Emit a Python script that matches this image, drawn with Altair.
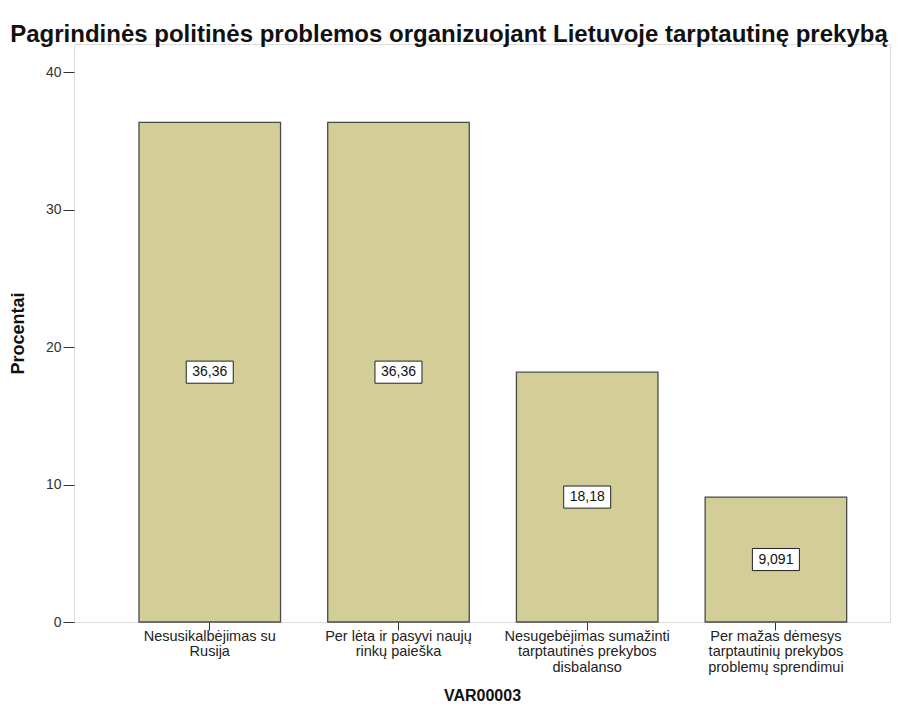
import altair as alt
import pandas as pd

categories = [
    "Nesusikalbėjimas su\nRusija",
    "Per lėta ir pasyvi naujų\nrinkų paieška",
    "Nesugebėjimas sumažinti\ntarptautinės prekybos\ndisbalanso",
    "Per mažas dėmesys\ntarptautinių prekybos\nproblemų sprendimui",
]
percent = [36.36, 36.36, 18.18, 9.091]
value_labels = ["36,36", "36,36", "18,18", "9,091"]
y_ticks = [0, 10, 20, 30, 40]

df = pd.DataFrame({"cat": categories, "pct": percent, "lab": value_labels})
df["mid"] = df["pct"] / 2

FONT = "Liberation Sans"

x_enc = alt.X(
    "cat:N",
    sort=categories,
    title="VAR00003",
    scale=alt.Scale(paddingInner=0.25, paddingOuter=0.287, align=0.6),
    axis=alt.Axis(
        labelAngle=0,
        labelExpr="split(datum.label, '\\n')",
        labelFont=FONT,
        labelFontSize=14.5,
        labelLineHeight=15.5,
        labelColor="#222",
        labelLimit=400,
        labelPadding=-1,
        tickSize=8,
        tickColor="#333",
        domain=False,
        titleFont=FONT,
        titleFontSize=16,
        titleFontWeight="bold",
        titleColor="#111",
        titleY=73,
        titleBaseline="middle",
    ),
)

y_scale = alt.Scale(domain=[0, 42.06], nice=False, zero=True)

bars = alt.Chart(df).mark_bar(
    fill="#d3ce97", stroke="#4a4a4a", strokeWidth=1.3
).encode(
    x=x_enc,
    y=alt.Y(
        "pct:Q",
        scale=y_scale,
        title="Procentai",
        axis=alt.Axis(
            values=y_ticks,
            grid=False,
            domain=False,
            tickSize=11,
            tickColor="#333",
            labelFont=FONT,
            labelFontSize=14,
            labelColor="#333",
            labelPadding=2,
            titleFont=FONT,
            titleFontSize=18,
            titleFontWeight="bold",
            titleColor="#111",
            titleX=-56,
            titleY=289,
            titleAngle=270,
            titleAlign="center",
            titleBaseline="middle",
        ),
    ),
)

boxes = alt.Chart(df).mark_point(
    shape="M-1,-0.47L1,-0.47L1,0.47L-1,0.47Z",
    size=2209,
    filled=True,
    fill="white",
    stroke="#222",
    strokeWidth=1,
    opacity=1,
).encode(
    x=alt.X("cat:N", sort=categories),
    y=alt.Y("mid:Q", scale=y_scale),
)

texts = alt.Chart(df).mark_text(
    font=FONT, fontSize=14, color="#111", baseline="middle", align="center"
).encode(
    x=alt.X("cat:N", sort=categories),
    y=alt.Y("mid:Q", scale=y_scale),
    text="lab:N",
)

chart = (
    alt.layer(bars, boxes, texts)
    .properties(
        width=816,
        height=578,
        autosize=alt.AutoSizeParams(type="none"),
        padding={"left": 66, "top": 36, "right": 2, "bottom": 85},
        title=alt.TitleParams(
            "Pagrindinės politinės problemos organizuojant Lietuvoje tarptautinę prekybą",
            font=FONT,
            fontSize=24,
            fontWeight="bold",
            color="#111",
            anchor="middle",
            dx=-33,
            dy=29,
            offset=7,
            baseline="alphabetic",
        ),
    )
    .configure_view(fill="#f0f0f0", stroke="#555555", strokeWidth=1.5)
    .configure(background="white")
)

chart.save("out.html", embed_options={"renderer": "svg", "actions": False})
